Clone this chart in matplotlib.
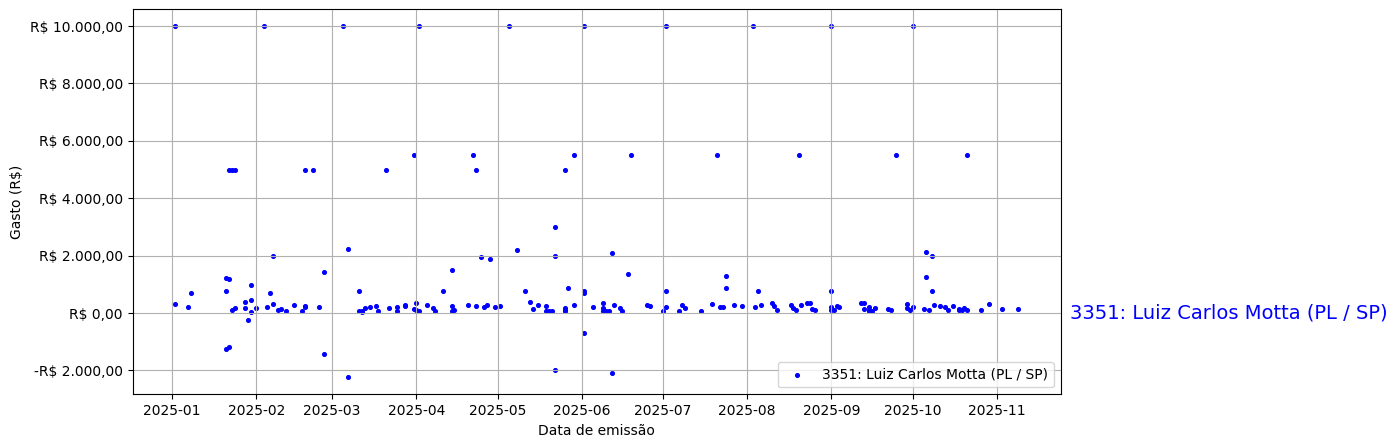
import numpy as np
import pandas as pd
import matplotlib
matplotlib.use("Agg")
import matplotlib.pyplot as plt
import matplotlib.dates as mdates
import matplotlib.transforms as mtransforms
from matplotlib.ticker import FuncFormatter

label = "3351: Luiz Carlos Motta (PL / SP)"

datas = [
    "2025-01-02", "2025-02-04", "2025-03-05", "2025-04-02", "2025-05-05",
    "2025-06-02", "2025-07-02", "2025-08-03", "2025-09-01", "2025-10-01",
    "2025-01-02", "2025-01-07", "2025-01-08", "2025-01-21", "2025-01-22",
    "2025-01-21", "2025-01-23", "2025-01-24", "2025-01-21", "2025-01-22",
    "2025-01-22", "2025-01-23", "2025-01-24", "2025-01-28", "2025-01-28",
    "2025-01-29", "2025-01-30", "2025-01-30", "2025-01-30", "2025-02-01",
    "2025-02-05", "2025-02-06", "2025-02-07", "2025-02-07", "2025-02-09",
    "2025-02-10", "2025-02-12", "2025-02-15", "2025-02-18", "2025-02-19",
    "2025-02-19", "2025-02-19", "2025-02-22", "2025-02-24", "2025-02-26",
    "2025-02-26", "2025-03-07", "2025-03-07", "2025-03-11", "2025-03-11",
    "2025-03-12", "2025-03-12", "2025-03-13", "2025-03-15", "2025-03-17",
    "2025-03-18", "2025-03-21", "2025-03-22", "2025-03-25", "2025-03-25",
    "2025-03-28", "2025-03-28", "2025-03-31", "2025-04-01", "2025-03-31",
    "2025-04-01", "2025-04-02", "2025-04-05", "2025-04-07", "2025-04-08",
    "2025-04-11", "2025-04-14", "2025-04-14", "2025-04-14", "2025-04-15",
    "2025-04-20", "2025-04-22", "2025-04-23", "2025-04-23", "2025-04-25",
    "2025-04-26", "2025-04-27", "2025-04-28", "2025-04-30", "2025-05-02",
    "2025-05-08", "2025-05-11", "2025-05-13", "2025-05-14", "2025-05-16",
    "2025-05-19", "2025-05-19", "2025-05-20", "2025-05-21", "2025-05-22",
    "2025-05-22", "2025-05-22", "2025-05-26", "2025-05-29", "2025-05-26",
    "2025-05-26", "2025-05-26", "2025-05-27", "2025-05-29", "2025-06-02",
    "2025-06-02", "2025-06-02", "2025-06-05", "2025-06-09", "2025-06-09",
    "2025-06-09", "2025-06-10", "2025-06-11", "2025-06-12", "2025-06-12",
    "2025-06-13", "2025-06-15", "2025-06-16", "2025-06-18", "2025-06-19",
    "2025-06-25", "2025-06-26", "2025-07-01", "2025-07-02", "2025-07-02",
    "2025-07-07", "2025-07-08", "2025-07-09", "2025-07-15", "2025-07-19",
    "2025-07-21", "2025-07-22", "2025-07-23", "2025-07-24", "2025-07-24",
    "2025-07-27", "2025-07-30", "2025-08-04", "2025-08-05", "2025-08-06",
    "2025-08-10", "2025-08-11", "2025-08-12", "2025-08-17", "2025-08-18",
    "2025-08-19", "2025-08-20", "2025-08-21", "2025-08-23", "2025-08-24",
    "2025-08-25", "2025-08-26", "2025-09-01", "2025-09-01", "2025-09-01",
    "2025-09-02", "2025-09-03", "2025-09-04", "2025-09-12", "2025-09-13",
    "2025-09-13", "2025-09-15", "2025-09-15", "2025-09-15", "2025-09-16",
    "2025-09-17", "2025-09-22", "2025-09-23", "2025-09-25", "2025-09-29",
    "2025-09-29", "2025-09-30", "2025-10-01", "2025-10-05", "2025-10-06",
    "2025-10-06", "2025-10-07", "2025-10-08", "2025-10-08", "2025-10-09",
    "2025-10-11", "2025-10-13", "2025-10-14", "2025-10-16", "2025-10-18",
    "2025-10-18", "2025-10-19", "2025-10-20", "2025-10-21", "2025-10-21",
    "2025-10-26", "2025-10-29", "2025-11-03", "2025-11-09",
]

gastos = [
    10000, 10000, 10000, 10000, 10000,
    10000, 10000, 10000, 10000, 10000,
    300, 200, 690, 1220, 1180,
    760, 100, 160, -1250, -1200,
    5000, 5000, 5000, 370, 160,
    -250, 970, 440, 20, 160,
    200, 690, 300, 1980, 90,
    130, 60, 270, 60, 230,
    200, 5000, 5000, 200, 1420,
    -1440, 2220, -2220, 760, 60,
    50, 70, 160, 200, 230,
    60, 5000, 160, 200, 60,
    270, 230, 5500, 340, 130,
    90, 60, 270, 160, 60,
    760, 1500, 230, 60, 90,
    270, 5500, 5000, 230, 1940,
    200, 270, 1870, 200, 230,
    2200, 760, 370, 130, 270,
    230, 60, 60, 60, 3000,
    2000, -2000, 5000, 5500, 160,
    90, 60, 860, 270, 690,
    -700, 760, 200, 160, 340,
    60, 60, 60, 2080, -2100,
    270, 160, 60, 1350, 5500,
    270, 230, 60, 760, 200,
    60, 270, 160, 60, 300,
    5500, 200, 200, 1300, 860,
    270, 230, 200, 760, 270,
    340, 230, 90, 270, 160,
    90, 5500, 270, 340, 340,
    130, 90, 200, 760, 90,
    90, 230, 200, 340, 340,
    130, 200, 90, 60, 60,
    160, 130, 90, 5500, 300,
    160, 90, 200, 130, 2120,
    1250, 90, 1980, 760, 270,
    230, 200, 90, 230, 90,
    130, 90, 160, 90, 5500,
    90, 300, 130, 130,
]


def brl(valor, pos):
    """Format values as Brazilian currency"""
    s = f"{abs(valor):,.2f}".replace(",", "X").replace(".", ",").replace("X", ".")
    return f"-R$ {s}" if valor < 0 else f"R$ {s}"


fig = plt.figure(figsize=(13.98, 4.48), dpi=100)
ax = fig.add_axes([0.0949, 0.1199, 0.6638, 0.8611])

ax.scatter(pd.to_datetime(datas), gastos, s=7, color="blue", label=label)

ax.xaxis.set_major_locator(mdates.MonthLocator())
ax.xaxis.set_major_formatter(mdates.DateFormatter("%Y-%m"))
ax.yaxis.set_major_formatter(FuncFormatter(brl))

ax.set_xlabel("Data de emissão")
ax.set_ylabel("Gasto (R$)")
ax.grid(True)
ax.legend(loc="lower right")

trans = mtransforms.blended_transform_factory(ax.transAxes, ax.transData)
ax.text(1.0105, 0, label, transform=trans, color="blue", fontsize=14,
        ha="left", va="center", clip_on=False)

fig.savefig("out.png", dpi=100)
